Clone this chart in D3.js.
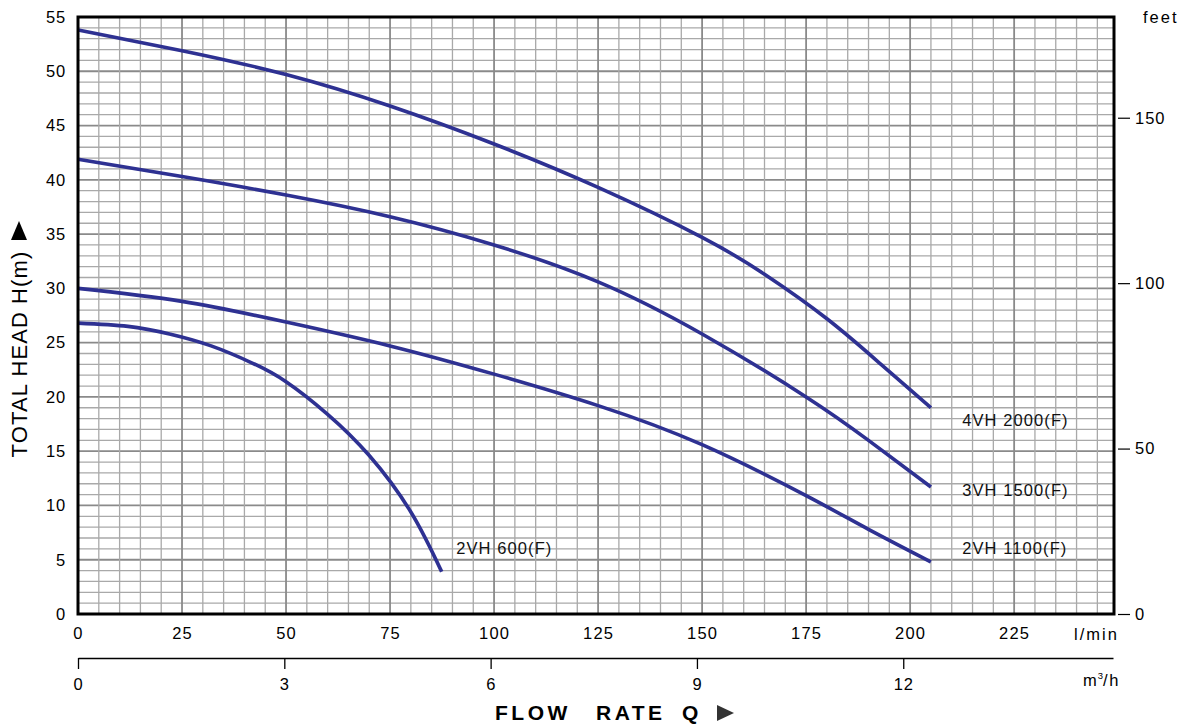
<!DOCTYPE html>
<html>
<head>
<meta charset="utf-8">
<script src="https://cdn.jsdelivr.net/npm/d3@7"></script>
<style>
  html, body { margin: 0; padding: 0; background: #fff; }
  svg { display: block; font-family: "Liberation Sans", Arial, sans-serif; }
</style>
</head>
<body>
<svg id="chart" width="1186" height="725"></svg>
<script>
// ---- data ----
const flowTicks = [0, 25, 50, 75, 100, 125, 150, 175, 200, 225];
const headTicks = [0, 5, 10, 15, 20, 25, 30, 35, 40, 45, 50, 55];
const feetTicks = [0, 50, 100, 150];
const m3hTicks = [0, 3, 6, 9, 12];

// [flow l/min, head m]
const curve4VH2000 = [[0,53.8],[25,51.9],[50,49.7],[75,46.8],[100,43.3],[125,39.3],[150,34.7],[165,31.3],[180,27.2],[193,23.0],[205,19.0]];
const curve3VH1500 = [[0,41.9],[25,40.3],[50,38.6],[75,36.6],[100,34.0],[125,30.6],[150,25.8],[175,20.0],[190,16.0],[205,11.7]];
const curve2VH1100 = [[0,30.0],[25,28.8],[50,26.9],[75,24.7],[100,22.1],[125,19.2],[150,15.6],[175,10.9],[190,7.8],[205,4.8]];
const curve2VH600  = [[0,26.8],[12,26.5],[22,25.8],[32,24.7],[42,23.1],[50,21.4],[60,18.4],[70,14.6],[80,9.4],[87.4,3.9]];

const seriesNames = ["4VH 2000(F)", "3VH 1500(F)", "2VH 1100(F)", "2VH 600(F)"];
const seriesData = [curve4VH2000, curve3VH1500, curve2VH1100, curve2VH600];

// ---- layout ----
const svg = d3.select("#chart");
const L = 78, R = 1114, T = 17, B = 614;
const FONT = "Liberation Sans, Arial, sans-serif";

const x = d3.scaleLinear().domain([0, 249]).range([L, R]);
const y = d3.scaleLinear().domain([0, 55]).range([B, T]);
const yFt = d3.scaleLinear().domain([0, 55 * 3.28084]).range([B, T]);
const xM3 = d3.scaleLinear().domain([0, 15.05]).range([L, 1113]);

// grid
const grid = svg.append("g");
d3.range(1, 55, 1).forEach(v => {
  const major = v % 5 === 0;
  grid.append("line")
    .attr("x1", L).attr("x2", R).attr("y1", y(v)).attr("y2", y(v))
    .attr("stroke", major ? "#8a8a8a" : "#a9a9a9")
    .attr("stroke-width", major ? 1.8 : 1.3);
});
d3.range(5, 249, 5).forEach(v => {
  const major = v % 25 === 0;
  grid.append("line")
    .attr("x1", x(v)).attr("x2", x(v)).attr("y1", T).attr("y2", B)
    .attr("stroke", major ? "#8a8a8a" : "#a9a9a9")
    .attr("stroke-width", major ? 1.8 : 1.3);
});

// curves
const line = d3.line().x(d => x(d[0])).y(d => y(d[1])).curve(d3.curveNatural);
svg.append("g").selectAll("path").data(seriesData).join("path")
  .attr("d", line)
  .attr("fill", "none")
  .attr("stroke", "#2e3192")
  .attr("stroke-width", 3.6);

// frame
svg.append("rect").attr("x", L).attr("y", T).attr("width", R - L).attr("height", B - T)
  .attr("fill", "none").attr("stroke", "#000").attr("stroke-width", 3);

// curve labels (placed relative to each curve's end point)
const labelDx = [7.5, 7.5, 7.5, 3.5];
const labelDy = [18, 9, -8, -18];
svg.append("g").selectAll("text").data(seriesNames).join("text")
  .attr("x", (d, i) => x(seriesData[i][seriesData[i].length - 1][0] + labelDx[i]))
  .attr("y", (d, i) => y(seriesData[i][seriesData[i].length - 1][1]) + labelDy[i])
  .attr("font-size", 16.5)
  .attr("letter-spacing", 1.1)
  .attr("fill", "#111")
  .text(d => d);

// left axis
const axL = svg.append("g").attr("transform", `translate(${L},0)`)
  .call(d3.axisLeft(y).tickValues(headTicks).tickSize(0).tickPadding(12));
axL.select(".domain").remove();
axL.selectAll("text").attr("font-size", 16.5).attr("fill", "#000")
  .attr("font-family", FONT).attr("letter-spacing", 0.8);

// bottom axis (l/min)
const axB = svg.append("g").attr("transform", `translate(0,${B})`)
  .call(d3.axisBottom(x).tickValues(flowTicks).tickSize(0).tickPadding(13));
axB.select(".domain").remove();
axB.selectAll("text").attr("font-size", 16.5).attr("fill", "#000")
  .attr("font-family", FONT).attr("letter-spacing", 1.2);
svg.append("text").attr("x", 1074).attr("y", 640)
  .attr("font-size", 16.5).attr("letter-spacing", 2).text("l/min");

// right axis (feet)
const axR = svg.append("g").attr("transform", `translate(1118,0)`)
  .call(d3.axisRight(yFt).tickValues(feetTicks).tickSize(12).tickPadding(5));
axR.select(".domain").remove();
axR.selectAll("line").attr("stroke", "#000").attr("stroke-width", 1.2);
axR.selectAll("text").attr("font-size", 16.5).attr("fill", "#000")
  .attr("font-family", FONT).attr("letter-spacing", 1);
svg.append("text").attr("x", 1143).attr("y", 23).attr("font-size", 16.5)
  .attr("letter-spacing", 2).text("feet");

// m3/h axis
const axM = svg.append("g").attr("transform", `translate(0,658)`)
  .call(d3.axisBottom(xM3).tickValues(m3hTicks).tickSize(11).tickSizeOuter(0).tickPadding(9));
axM.select(".domain").attr("stroke", "#000").attr("stroke-width", 1.3);
axM.selectAll("line").attr("stroke", "#000").attr("stroke-width", 1.3);
axM.selectAll("text").attr("font-size", 16.5).attr("fill", "#000")
  .attr("font-family", FONT).attr("letter-spacing", 0.8);
const m3 = svg.append("text").attr("x", 1083).attr("y", 686).attr("font-size", 16.5);
m3.append("tspan").attr("letter-spacing", 1).text("m");
m3.append("tspan").attr("font-size", 9.5).attr("dy", -7).text("3");
m3.append("tspan").attr("dy", 7).attr("letter-spacing", 1.5).text("/h");

// y title
svg.append("text")
  .attr("transform", "translate(27,354) rotate(-90)")
  .attr("text-anchor", "middle")
  .attr("font-size", 22)
  .attr("letter-spacing", 1.1)
  .attr("fill", "#000")
  .text("TOTAL HEAD H(m)");
svg.append("path").attr("d", "M11,240 L19,221 L27,240 Z").attr("fill", "#000");

// x title
const xt = svg.append("g").attr("font-size", 21).attr("font-weight", "bold")
  .attr("letter-spacing", 3.5).attr("fill", "#000");
xt.append("text").attr("x", 495).attr("y", 720).text("FLOW");
xt.append("text").attr("x", 596).attr("y", 720).text("RATE");
xt.append("text").attr("x", 682).attr("y", 720).text("Q");
svg.append("path").attr("d", "M717,705 L734,713 L717,721 Z").attr("fill", "#333");
</script>
</body>
</html>
